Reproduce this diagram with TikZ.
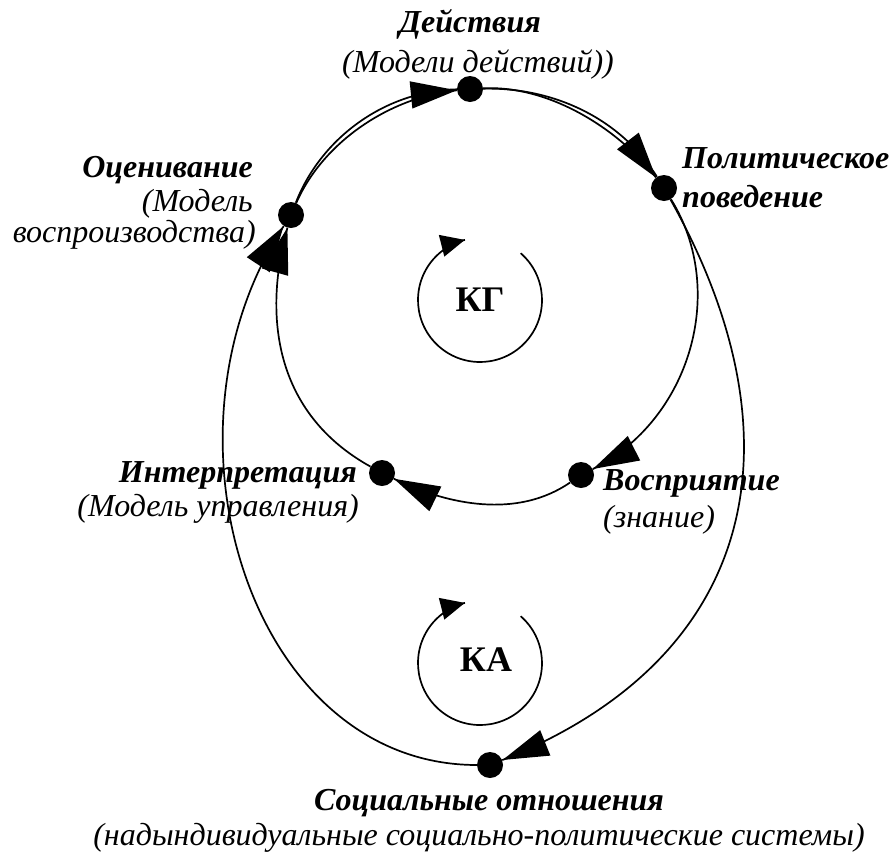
\documentclass[tikz,border=0pt]{standalone}
\usepackage{fontspec}
\setmainfont{Liberation Serif}
\usetikzlibrary{arrows.meta,decorations.markings}
\begin{document}
\begin{tikzpicture}[x=1pt,y=-1pt,
  dot/.style={circle,fill=black,minimum size=26pt,inner sep=0pt},
  conn/.style={line width=1.7pt},
  arr/.style={conn,decoration={markings,mark=at position 0.9995 with {\arrow{Triangle[length=46pt,width=27pt]}}},postaction={decorate}},
  smallarr/.style={conn,decoration={markings,mark=at position 0.9995 with {\arrow{Triangle[length=24pt,width=22pt]}}},postaction={decorate}},
  ttl/.style={font=\fontsize{32}{38}\selectfont\bfseries\itshape,inner sep=0pt},
  sub/.style={font=\fontsize{32}{38}\selectfont\itshape,inner sep=0pt},
  loopname/.style={font=\fontsize{36}{40}\selectfont\bfseries,inner sep=0pt}]
\useasboundingbox (0,0) rectangle (896,852);

% texts
\node[ttl,anchor=base] (tD) at (470,32) {Действия};
\node[sub,anchor=base] (sD) at (478,72) {(Модели действий))};
\node[ttl,anchor=base east] (tO) at (253,177) {Оценивание};
\node[sub,anchor=base east] (sO1) at (253,211) {(Модель};
\node[sub,anchor=base east] (sO2) at (256,242) {воспроизводства)};
\node[ttl,anchor=base west] (tP) at (682,168) {Политическое};
\node[ttl,anchor=base west] (tP2) at (682,207) {поведение};
\node[ttl,anchor=base east] (tI) at (357,482) {Интерпретация};
\node[sub,anchor=base east] (sI) at (359,516) {(Модель управления)};
\node[ttl,anchor=base west] (tV) at (603,490) {Восприятие};
\node[sub,anchor=base west] (sV) at (603,527) {(знание)};
\node[ttl,anchor=base] (tS) at (489,810) {Социальные отношения};
\node[sub,anchor=base] (sS) at (479,845) {(надындивидуальные социально-политические системы)};

% loop names
\node[loopname] (KG) at (480,300) {КГ};
\node[loopname] (KA) at (486,660) {КА};

% nodes (dots)
\node[dot] (D) at (470,89) {};
\node[dot] (P) at (664,188) {};
\node[dot] (O) at (291,215) {};
\node[dot] (I) at (382,473) {};
\node[dot] (V) at (581,475) {};
\node[dot] (S) at (490,765) {};

% inner loop (KG)
\draw[arr] (O) .. controls +(32,-73) and +(-80,8) .. (D);
\draw[arr] (D) .. controls +(78,-4) and +(-46,-60) .. (P);
\draw[arr] (P) .. controls +(64,103) and +(109,-55) .. (V);
\draw[arr] (V) .. controls +(-64,44) and +(66,32) .. (I);
\draw[arr] (I) .. controls +(-108,-60) and +(-28,100) .. (O);

% outer loop (KA)
\draw[conn] (O) .. controls +(30,-77) and +(-85,2) .. (D);
\draw[conn] (D) .. controls +(83,-2) and +(-44,-70) .. (P);
\draw[arr] (P) .. controls +(140,250) and +(270,-108) .. (S);
\draw[arr] (S) .. controls +(-240,0) and +(-143,217) .. (O);

% small circular arrows
\draw[smallarr] (KG.center) ++(-49:62) arc[start angle=-49,end angle=256,radius=62];
\draw[smallarr] (KA.center) ++(-6,3) ++(-49:62) arc[start angle=-49,end angle=256,radius=62];
\end{tikzpicture}
\end{document}
